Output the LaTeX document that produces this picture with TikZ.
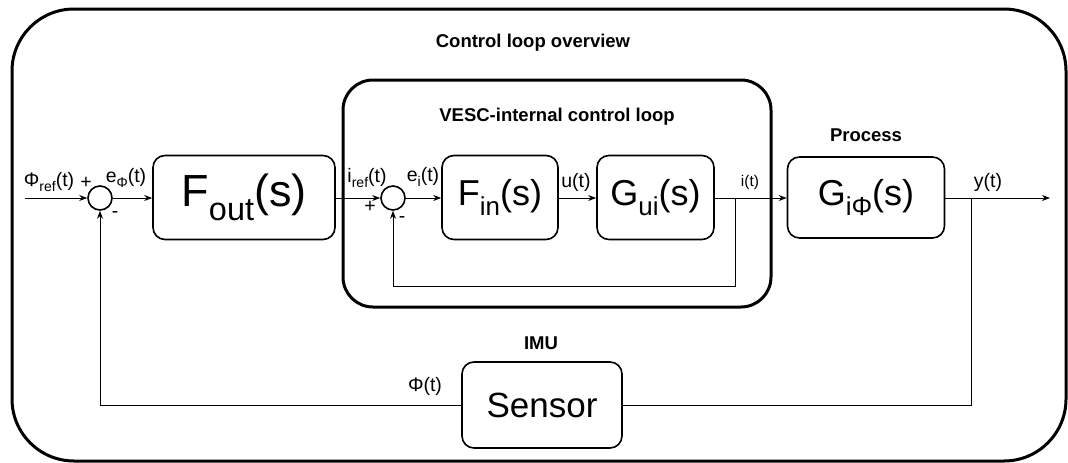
\documentclass[tikz,border=0pt]{standalone}
\usepackage{fontspec}
\usepackage{graphicx}
\setmainfont{Liberation Sans}
\usetikzlibrary{arrows.meta,positioning}
\newcommand{\lowsub}[1]{\raisebox{-0.3em}{\scalebox{0.72}{#1}}}

\begin{document}
\begin{tikzpicture}[
  x=1pt, y=-1pt,
  frame/.style={draw, line width=3pt, inner sep=0pt},
  blk/.style={draw, line width=1.6pt, rounded corners=12pt, minimum height=84pt, inner sep=0pt},
  sum/.style={draw, circle, line width=1.6pt, minimum size=24pt, inner sep=0pt},
  sig/.style={line width=1pt},
  arr/.style={sig, -{Stealth[length=8pt,width=6pt]}},
  lbl/.style={inner sep=0pt, font=\fontsize{19.5}{22}\selectfont},
  ttl/.style={inner sep=0pt, font=\bfseries\fontsize{18.5}{22}\selectfont}
]
\useasboundingbox (0,0) rectangle (1068,463);

% frames
\node[frame, rounded corners=62pt, minimum width=1054pt, minimum height=452pt] (all) at (539,235) {};
\node[frame, rounded corners=30pt, minimum width=428pt, minimum height=227pt] (vesc) at (557,193.5) {};
\node[ttl] (ttlall) at (533,43) {Control loop overview};
\node[ttl] (ttlvesc) at (557,117) {VESC-internal control loop};
\node[ttl] (ttlproc) at (866,135) {Process};
\node[ttl] (ttlimu) at (541,343) {IMU};

% blocks
\node[sum] (s1) at (100,198) {};
\node[blk, minimum width=182pt, font=\fontsize{45}{50}\selectfont] (fout) at (244,197.5) {F\lowsub{out}(s)};
\node[sum] (s2) at (393,198) {};
\node[blk, minimum width=116pt, font=\fontsize{36}{40}\selectfont] (fin) at (500,197.5) {F\lowsub{in}(s)};
\node[blk, minimum width=117pt, font=\fontsize{36}{40}\selectfont] (gui) at (655.5,197.5) {G\lowsub{ui}(s)};
\node[blk, minimum width=157pt, minimum height=81pt, font=\fontsize{36}{40}\selectfont] (proc) at (866,197.5) {G\lowsub{iΦ}(s)};
\node[blk, minimum width=160pt, minimum height=86pt, font=\fontsize{35}{40}\selectfont] (sens) at (542,405) {Sensor};

% signals
\coordinate (in) at (25,198);
\coordinate (out) at (1050,198);
\coordinate (bri) at (735,198);
\coordinate (bro) at (971,198);
\draw[arr] (in) -- (s1.west);
\draw[arr] (s1.east) -- (fout.west |- s1.east);
\draw[arr] (fout.east |- s2.west) -- (s2.west);
\draw[arr] (s2.east) -- (fin.west |- s2.east);
\draw[arr] (fin.east |- s2.east) -- (gui.west |- s2.east);
\draw[arr] (gui.east |- s2.east) -- (proc.west |- s2.east);
\draw[arr] (proc.east |- s2.east) -- (out);
\draw[arr] (bri) -- (735,286) -| (s2.south);
\draw[sig] (bro) |- (sens.east);
\draw[arr] (sens.west) -| (s1.south);

% labels
\node[lbl] (lref) at (49,182) {Φ\lowsub{ref}(t)};
\node[lbl] (lp1) at (86,183) {+};
\node[lbl] (le1) at (126,178) {e\lowsub{Φ}(t)};
\node[lbl] (lm1) at (115,215) {-};
\node[lbl] (liref) at (367,178) {i\lowsub{ref}(t)};
\node[lbl] (le2) at (423,177) {e\lowsub{i}(t)};
\node[lbl] (lp2) at (370,207) {+};
\node[lbl] (lm2) at (402,220) {-};
\node[lbl] (lu) at (576,182) {u(t)};
\node[lbl, font=\fontsize{15.5}{18}\selectfont] (li) at (750,182) {i(t)};
\node[lbl] (ly) at (988,182) {y(t)};
\node[lbl] (lphi) at (425,386) {Φ(t)};
\end{tikzpicture}
\end{document}
